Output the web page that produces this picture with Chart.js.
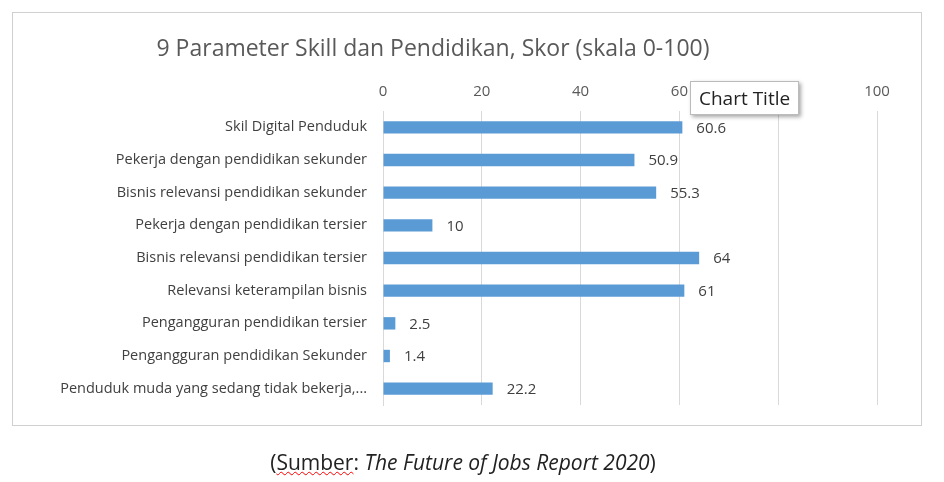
<!DOCTYPE html>
<html><head><meta charset="utf-8">
<script src="https://cdn.jsdelivr.net/npm/chart.js@4"></script>
<style>
body{margin:0;background:#fff;font-family:"Open Sans",sans-serif;}
#wrap{position:relative;width:944px;height:482px;}
#frame{position:absolute;left:12px;top:12px;width:908px;height:412px;border:1px solid #d0d0d0;}
#title{position:absolute;left:0;width:866px;top:31px;text-align:center;font-size:23px;color:#595959;}
#tip{position:absolute;left:690px;top:81px;padding:3px 8px;font-size:19px;color:#222;background:#fff;border:1px solid #bbb;box-shadow:2px 2px 4px rgba(0,0,0,.35);}
#src{position:absolute;left:0;width:926px;top:448px;text-align:center;font-size:21px;color:#222;}
#src u{text-decoration:underline wavy red;text-decoration-thickness:1px;}
canvas{position:absolute;left:0;top:0;}
</style></head><body>
<div id="wrap">
<div id="frame"></div>
<canvas id="c" width="944" height="482"></canvas>
<div id="title">9 Parameter Skill dan Pendidikan, Skor (skala 0-100)</div>
<div id="tip">Chart Title</div>
<div id="src">(<u>Sumber</u>: <i>The Future of Jobs Report 2020</i>)</div>
</div>
<script>
const categories = [
  'Skil Digital Penduduk',
  'Pekerja dengan pendidikan sekunder',
  'Bisnis relevansi pendidikan sekunder',
  'Pekerja dengan pendidikan tersier',
  'Bisnis relevansi pendidikan tersier',
  'Relevansi keterampilan bisnis',
  'Pengangguran pendidikan tersier',
  'Pengangguran pendidikan Sekunder',
  'Penduduk muda yang sedang tidak bekerja,...'
];
const scores = [60.6, 50.9, 55.3, 10, 64, 61, 2.5, 1.4, 22.2];
const tickValues = [0, 20, 40, 60, 80, 100];

const valueLabels = {
  id: 'valueLabels',
  afterDatasetsDraw(chart) {
    const ctx = chart.ctx;
    ctx.save();
    ctx.font = '15px "Open Sans"';
    ctx.fillStyle = '#404040';
    ctx.textBaseline = 'middle';
    chart.getDatasetMeta(0).data.forEach((bar, i) => {
      ctx.fillText(String(scores[i]), bar.x + 14, bar.y + 1);
    });
    ctx.restore();
  }
};

new Chart(document.getElementById('c'), {
  type: 'bar',
  data: {
    labels: categories,
    datasets: [{ data: scores, backgroundColor: '#5b9bd5', barPercentage: 0.38, categoryPercentage: 1 }]
  },
  options: {
    indexAxis: 'y',
    responsive: false,
    animation: false,
    layout: { padding: { top: 81, bottom: 77, right: 67, left: 0 } },
    plugins: { legend: { display: false }, tooltip: { enabled: false } },
    scales: {
      x: {
        position: 'top', min: 0, max: 100,
        afterBuildTicks: s => { s.ticks = tickValues.map(v => ({ value: v })); },
        afterFit: s => { s.height = 30; },
        grid: { color: '#d9d9d9', drawTicks: false },
        border: { display: false },
        ticks: { color: '#595959', font: { size: 15, family: 'Open Sans' }, padding: 10 }
      },
      y: {
        afterFit: s => { s.width = 383; },
        grid: { display: false },
        border: { color: '#d9d9d9' },
        ticks: { color: '#404040', font: { size: 14.5, family: 'Open Sans' }, padding: 8 }
      }
    }
  },
  plugins: [valueLabels]
});
</script>
</body></html>
